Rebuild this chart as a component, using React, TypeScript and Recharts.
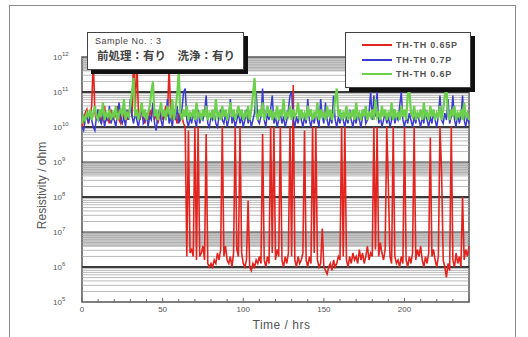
import React from 'react'
import {
  LineChart,
  Line,
  XAxis,
  YAxis,
  ReferenceLine,
  ReferenceArea,
} from 'recharts'

// log10 of resistivity (ohm), one value per hour, t = 0..240
const RED = [
  10.0, 10.2, 10.4, 10.5, 10.1, 10.3, 10.6, 11.9, 10.4, 10.2, 10.5, 10.3, 10.1, 10.4, 10.6, 10.2, 10.3, 10.1, 10.5, 10.2,
  10.4, 10.3, 10.6, 10.2, 10.1, 10.4, 10.3, 10.5, 10.2, 10.4, 10.6, 10.3, 12.0, 10.5, 11.9, 10.4, 10.2, 10.5, 10.3, 10.1,
  10.4, 10.2, 10.5, 10.3, 10.6, 10.2, 10.4, 10.1, 10.3, 10.5, 10.2, 10.4, 10.6, 10.3, 11.7, 10.4, 10.2, 10.5, 10.3, 10.1,
  10.4, 10.2, 10.3, 10.1, 10.0, 6.3, 9.9, 6.4, 6.5, 6.3, 10.0, 6.2, 10.0, 6.3, 6.4, 6.6, 6.2, 9.8, 6.1, 6.0,
  6.1, 6.0, 6.2, 6.1, 6.4, 6.2, 6.5, 10.0, 6.3, 6.6, 6.2, 6.1, 6.3, 6.0, 6.4, 10.0, 6.5, 6.3, 10.0, 6.4,
  6.1, 6.0, 6.2, 7.9, 6.0, 5.9, 6.1, 6.0, 6.2, 6.1, 6.3, 6.1, 9.8, 6.2, 6.0, 6.3, 6.1, 10.0, 6.4, 10.0,
  6.2, 6.5, 6.3, 10.0, 6.2, 6.0, 6.3, 6.1, 6.4, 10.0, 6.3, 11.2, 6.2, 6.0, 6.3, 6.1, 6.2, 6.4, 9.9, 6.2,
  6.0, 6.3, 6.1, 10.0, 6.4, 10.0, 6.2, 6.0, 6.1, 7.1, 6.0, 5.9, 5.8, 6.0, 6.1, 5.9, 6.2, 6.0, 6.1, 6.3,
  6.2, 10.0, 6.3, 10.0, 6.2, 6.0, 6.3, 6.1, 6.4, 6.2, 6.3, 6.1, 6.5, 6.2, 6.4, 6.1, 6.3, 6.6, 6.2, 6.4,
  6.3, 10.0, 6.5, 10.0, 6.3, 6.7, 6.4, 6.2, 6.5, 10.0, 8.3, 6.3, 6.1, 10.0, 6.3, 6.1, 6.2, 6.0, 6.3, 6.1,
  10.0, 6.2, 6.0, 6.3, 6.1, 6.4, 10.0, 6.2, 6.5, 6.3, 6.6, 6.2, 6.0, 6.3, 6.1, 6.4, 9.7, 6.3, 6.5, 6.2,
  6.0, 6.3, 10.0, 8.7, 6.2, 6.0, 5.7, 6.1, 5.9, 10.0, 6.2, 6.0, 6.4, 6.1, 6.3, 6.0, 8.0, 6.2, 6.5, 6.3, 6.6,
]

const BLUE = [
  10.0, 9.9, 10.2, 10.3, 10.1, 10.4, 10.2, 10.0, 9.9, 10.3, 10.5, 10.2, 10.1, 10.4, 10.0, 10.3, 10.2, 10.6, 10.1, 10.3,
  10.2, 10.0, 10.4, 10.7, 10.2, 10.1, 10.3, 10.0, 10.5, 10.2, 10.8, 10.3, 10.1, 10.4, 10.2, 10.0, 10.3, 10.6, 10.1, 10.2,
  10.4, 10.0, 10.3, 10.2, 10.7, 10.1, 9.9, 10.3, 10.5, 10.2, 10.0, 10.4, 10.2, 10.8, 10.1, 10.3, 10.0, 10.4, 10.2, 10.6,
  10.1, 10.3, 10.5, 11.0, 11.1, 10.2, 10.0, 10.3, 10.1, 10.4, 10.2, 10.0, 10.5, 10.1, 10.3, 10.2, 10.4, 10.9, 10.1, 10.0,
  10.3, 10.2, 10.4, 10.1, 10.0, 10.3, 10.5, 10.2, 10.1, 10.4, 10.0, 10.2, 10.8, 10.1, 10.3, 10.0, 10.2, 10.4, 10.1, 10.3,
  10.0, 10.2, 10.5, 10.1, 10.3, 10.0, 10.2, 10.4, 11.0, 10.2, 10.1, 10.3, 11.1, 10.2, 10.0, 10.4, 10.2, 10.5, 10.9, 10.1,
  10.3, 10.0, 10.2, 10.4, 10.1, 10.3, 10.0, 10.2, 10.5, 10.9, 11.0, 10.2, 10.0, 10.3, 10.1, 10.4, 10.2, 10.0, 10.3, 10.1,
  10.8, 10.2, 10.0, 10.3, 10.1, 10.4, 10.2, 10.0, 10.8, 10.3, 10.1, 10.7, 10.2, 10.0, 10.3, 10.1, 10.9, 10.2, 10.0, 10.3,
  10.1, 10.4, 10.2, 10.0, 10.3, 10.1, 10.5, 10.2, 10.0, 10.3, 10.1, 10.4, 10.2, 10.0, 10.3, 10.5, 10.1, 10.2, 10.4, 11.0,
  10.2, 10.9, 10.3, 11.0, 10.1, 10.3, 10.0, 10.2, 10.4, 10.1, 10.3, 10.0, 10.2, 10.5, 10.1, 10.3, 10.2, 10.6, 11.0, 10.2,
  10.0, 10.3, 10.1, 10.4, 10.2, 10.0, 10.3, 10.1, 10.4, 10.2, 10.0, 10.3, 10.1, 10.5, 10.2, 10.0, 10.3, 10.1, 10.4, 10.2,
  10.0, 10.3, 10.9, 10.2, 10.1, 10.4, 10.2, 10.8, 10.1, 10.3, 10.9, 10.2, 10.0, 10.4, 10.1, 10.3, 10.9, 10.2, 10.0, 10.3, 10.1,
]

const GREEN = [
  10.1, 10.3, 10.2, 10.4, 10.3, 10.5, 10.2, 10.4, 10.6, 10.3, 10.2, 10.5, 10.3, 10.7, 10.2, 10.4, 10.3, 10.5, 10.2, 10.4,
  10.3, 10.6, 10.2, 10.4, 10.5, 10.3, 10.8, 10.2, 10.4, 10.3, 10.6, 11.0, 11.4, 10.3, 10.5, 10.2, 10.4, 10.7, 10.3, 10.5,
  10.2, 10.4, 10.6, 11.0, 11.3, 10.3, 10.5, 10.2, 10.4, 10.7, 10.3, 10.5, 10.2, 10.6, 10.4, 10.3, 10.8, 10.2, 10.5, 10.9,
  11.6, 10.4, 10.2, 10.5, 10.3, 10.6, 10.2, 10.4, 10.3, 10.5, 10.2, 10.7, 10.3, 10.4, 10.2, 10.5, 10.3, 10.6, 10.2, 10.4,
  10.3, 10.5, 10.2, 10.8, 10.3, 10.4, 10.2, 10.6, 10.3, 10.5, 10.2, 10.4, 10.7, 10.3, 10.5, 10.2, 10.4, 10.6, 10.3, 10.5,
  10.2, 10.4, 10.3, 10.6, 10.2, 10.5, 10.9, 11.4, 10.4, 10.2, 10.5, 10.3, 10.7, 10.2, 10.4, 10.6, 10.3, 10.5, 10.2, 10.4,
  10.3, 10.6, 10.2, 10.5, 10.3, 10.8, 10.2, 10.4, 10.3, 10.6, 10.2, 10.5, 10.3, 10.4, 10.7, 10.2, 10.5, 10.3, 10.4, 10.2,
  10.6, 10.3, 10.5, 10.2, 10.4, 10.3, 10.7, 10.2, 10.5, 10.3, 10.4, 10.2, 10.6, 10.3, 10.5, 10.2, 10.4, 10.8, 11.1, 10.3,
  10.5, 10.2, 10.4, 10.3, 10.6, 10.2, 10.4, 10.3, 10.5, 10.2, 10.7, 10.3, 10.4, 10.2, 10.5, 10.3, 10.6, 10.2, 10.4, 10.3,
  10.5, 10.2, 10.8, 10.3, 10.4, 10.2, 10.6, 10.3, 10.5, 10.2, 10.4, 10.3, 10.7, 10.2, 10.5, 10.3, 10.4, 10.2, 10.6, 10.3,
  10.5, 10.2, 10.9, 11.1, 10.4, 10.3, 10.6, 10.2, 10.4, 10.3, 10.5, 10.2, 10.7, 10.3, 10.4, 10.2, 10.6, 10.3, 10.5, 10.2,
  10.4, 10.3, 10.6, 10.2, 10.5, 10.9, 11.1, 10.4, 10.2, 10.5, 10.3, 10.6, 10.2, 10.4, 10.3, 10.5, 10.2, 10.7, 10.3, 10.4, 10.2,
]

const X_TICKS = [0, 10, 20, 30, 40, 50, 60, 70, 80, 90, 100, 110, 120, 130, 140, 150, 160, 170, 180, 190, 200, 210, 220, 230, 240]
const X_LABELS = [0, 50, 100, 150, 200]
const DECADES = [5, 6, 7, 8, 9, 10, 11, 12]
const MINOR_STEPS = [2, 3, 4, 5, 6, 7, 8, 9]
const GRAY_BANDS = [
  [11.6, 12],
  [8.62, 9],
  [6.58, 7],
]

const SERIES = [
  { key: 'red', name: 'TH-TH 0.65P', color: '#e3241e', width: 1.6 },
  { key: 'blue', name: 'TH-TH 0.7P', color: '#3a3ccc', width: 1.5 },
  { key: 'green', name: 'TH-TH 0.6P', color: '#6cd04c', width: 2.2 },
]

const data = RED.map((r, i) => ({ t: i, red: r, blue: BLUE[i], green: GREEN[i] }))

const minorLines = DECADES.slice(0, -1).flatMap((d) => MINOR_STEPS.map((k) => d + Math.log10(k)))

const FONT = '"Liberation Sans", Arial, sans-serif'

const XTick = ({ x, y, payload }: any) => {
  const v = payload.value
  const major = X_LABELS.includes(v)
  return (
    <g>
      <line x1={x} x2={x} y1={y} y2={y - (major ? 4 : 3)} stroke="#666" strokeWidth={1} />
      {major && (
        <text x={x} y={y + 10} textAnchor="middle" fontSize={8} fill="#555" fontFamily={FONT}>
          {v}
        </text>
      )}
    </g>
  )
}

const YTick = ({ x, y, payload }: any) => (
  <g>
    <text x={x - 20} y={y + 3} textAnchor="end" fontSize={8} fill="#555" fontFamily={FONT}>
      10
    </text>
    <text x={x - 20} y={y - 1} textAnchor="start" fontSize={6} fill="#555" fontFamily={FONT}>
      {payload.value}
    </text>
  </g>
)

export default function App() {
  return (
    <div
      style={{
        position: 'absolute',
        left: 0,
        top: 0,
        width: 528,
        height: 337,
        background: '#fff',
        overflow: 'hidden',
        fontFamily: FONT,
      }}
    >
      <div
        style={{
          position: 'absolute',
          left: 9,
          top: 5,
          width: 505,
          height: 345,
          border: '1px solid #8a8a8a',
        }}
      />
      <LineChart
        width={528}
        height={337}
        data={data}
        margin={{ top: 57, right: 59, bottom: 0, left: 0 }}
        style={{ position: 'absolute', left: 0, top: 0 }}
      >
        <XAxis
          dataKey="t"
          type="number"
          domain={[0, 240]}
          ticks={X_TICKS}
          interval={0}
          height={35}
          axisLine={false}
          tickLine={false}
          tickSize={0}
          tickMargin={0}
          tick={<XTick />}
          label={{
            value: 'Time / hrs',
            position: 'insideBottom',
            offset: 8,
            dx: 6,
            style: { fontSize: 12, fill: '#555', fontFamily: FONT, letterSpacing: 0.5 },
          }}
        />
        <YAxis
          type="number"
          domain={[5, 12]}
          ticks={DECADES}
          interval={0}
          width={82}
          axisLine={false}
          tickLine={false}
          tickSize={0}
          tickMargin={0}
          tick={<YTick />}
          label={{
            value: 'Resistivity / ohm',
            angle: -90,
            position: 'insideLeft',
            offset: 42,
            dy: 6,
            style: { fontSize: 12, fill: '#555', textAnchor: 'middle', fontFamily: FONT },
          }}
        />
        {GRAY_BANDS.map(([a, b], i) => (
          <ReferenceArea key={`band-${i}`} y1={a} y2={b} fill="#b5b5b5" fillOpacity={0.75} stroke="none" />
        ))}
        {minorLines.map((v, i) => (
          <ReferenceLine key={`minor-${i}`} y={v} stroke="#a8a8a8" strokeWidth={0.8} />
        ))}
        {DECADES.slice(1, -1).map((d) => (
          <ReferenceLine key={`dec-${d}`} y={d} stroke="#3a3a3a" strokeWidth={d % 2 === 0 || d === 11 ? 1.8 : 1.2} />
        ))}
        {SERIES.map((s) => (
          <Line
            key={s.key}
            type="linear"
            dataKey={s.key}
            name={s.name}
            stroke={s.color}
            strokeWidth={s.width}
            strokeLinejoin="miter"
            dot={false}
            isAnimationActive={false}
          />
        ))}
        <ReferenceArea x1={0} x2={240} y1={5} y2={12} fill="none" stroke="#555" strokeWidth={1.5} />
      </LineChart>

      <div
        style={{
          position: 'absolute',
          left: 87,
          top: 32,
          width: 155,
          height: 36,
          background: '#fff',
          border: '1px solid #444',
          boxShadow: '4px 4px 0 #111',
          color: '#444',
        }}
      >
        <div style={{ position: 'absolute', left: 7, top: 3, fontSize: 9, letterSpacing: 0.5, whiteSpace: 'nowrap' }}>
          Sample No. : 3
        </div>
        <div
          style={{
            position: 'absolute',
            left: 9,
            top: 14,
            fontSize: 11.5,
            fontWeight: 'bold',
            fontFamily: '"Noto Sans CJK JP", sans-serif',
            whiteSpace: 'nowrap',
          }}
        >
          前処理：有り　洗浄：有り
        </div>
      </div>

      <div
        style={{
          position: 'absolute',
          left: 345,
          top: 32,
          width: 124,
          height: 54,
          background: '#fff',
          border: '1px solid #444',
          boxShadow: '4px 4px 0 #111',
        }}
      >
        {SERIES.map((s, i) => (
          <div
            key={s.key}
            style={{ position: 'absolute', left: 16, top: 7 + i * 14.5, display: 'flex', alignItems: 'center' }}
          >
            <div style={{ width: 30, height: 2, flexShrink: 0, background: s.color }} />
            <span
              style={{
                marginLeft: 4,
                fontSize: 9,
                letterSpacing: 0.8,
                fontWeight: 'bold',
                color: '#555',
                whiteSpace: 'nowrap',
              }}
            >
              {s.name}
            </span>
          </div>
        ))}
      </div>
    </div>
  )
}
